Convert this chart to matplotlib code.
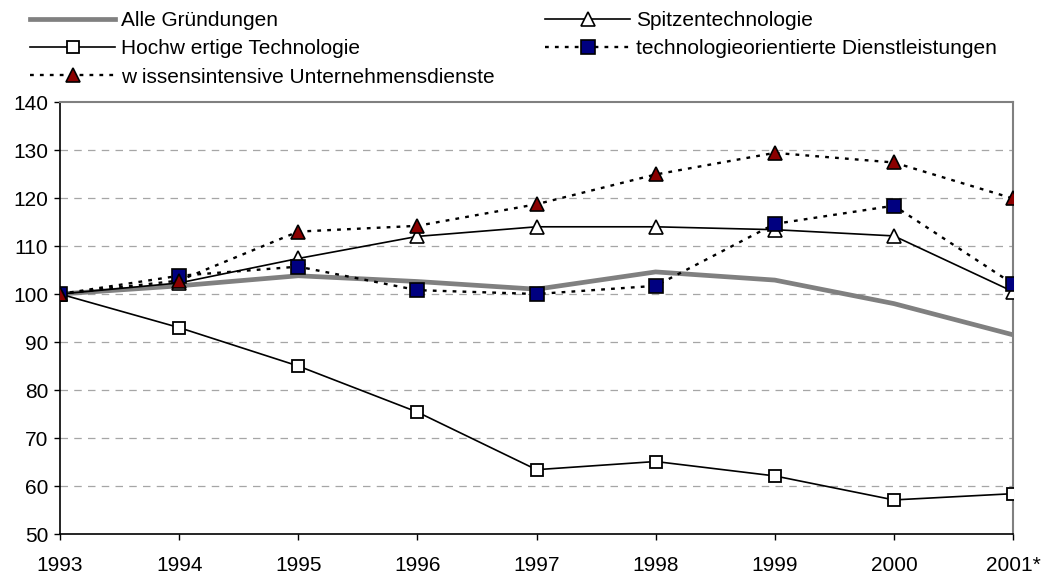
import matplotlib
matplotlib.use("Agg")
import matplotlib.pyplot as plt

years = ["1993", "1994", "1995", "1996", "1997", "1998", "1999", "2000", "2001*"]
alle = [100, 101.7, 103.8, 102.6, 101.0, 104.6, 102.9, 98.0, 91.5]
spitzen = [100, 102.3, 107.4, 112.0, 114.0, 114.0, 113.4, 112.1, 100.5]
hochw = [100, 93.0, 85.0, 75.4, 63.4, 65.1, 62.1, 57.1, 58.4]
techno = [100, 103.8, 105.7, 100.8, 100.0, 101.7, 114.6, 118.4, 102.1]
wissens = [100, 102.8, 113.0, 114.2, 118.7, 124.9, 129.4, 127.4, 119.9]

plt.rcParams['font.family'] = ['Liberation Sans', 'DejaVu Sans']

W, H = 1041, 575
fig = plt.figure(figsize=(W / 100, H / 100), dpi=100)
ax = fig.add_axes([60 / W, (H - 534) / H, (1013 - 60) / W, (534 - 102) / H])
x = list(range(len(years)))

dot = (0, (1.6, 2.6))
l1, = ax.plot(x, alle, color='#808080', lw=3.4, solid_joinstyle='miter', zorder=3,
              label='Alle Gründungen')
l2, = ax.plot(x, spitzen, color='black', lw=1.2, marker='^', markersize=9.5,
              markerfacecolor='white', markeredgecolor='black', markeredgewidth=1.2,
              zorder=4, label='Spitzentechnologie')
l3, = ax.plot(x, hochw, color='black', lw=1.2, marker='s', markersize=8.5,
              markerfacecolor='white', markeredgecolor='black', markeredgewidth=1.3,
              zorder=4, label='Hochw ertige Technologie')
l4, = ax.plot(x, techno, color='black', lw=1.7, ls=dot, marker='s', markersize=9.5,
              markerfacecolor='#000080', markeredgecolor='black', markeredgewidth=1.2,
              zorder=5, label='technologieorientierte Dienstleistungen')
l5, = ax.plot(x, wissens, color='black', lw=1.7, ls=dot, marker='^', markersize=10,
              markerfacecolor='#8B0000', markeredgecolor='black', markeredgewidth=1.2,
              zorder=6, label='w issensintensive Unternehmensdienste')

ax.set_xlim(0, len(years) - 1)
ax.set_ylim(50, 140)
ax.set_xticks(x)
ax.set_xticklabels(years)
ax.set_yticks(range(50, 141, 10))
ax.tick_params(axis='both', labelsize=15, direction='out', length=4.5, width=1, color='black')
ax.tick_params(axis='x', pad=11)
ax.tick_params(axis='y', pad=4)
for v in range(60, 140, 10):
    ax.axhline(v, color='#a6a6a6', lw=0.9, ls=(0, (6, 5)), zorder=1)
for s in ('left', 'bottom'):
    ax.spines[s].set_color('black')
    ax.spines[s].set_linewidth(1.2)
for s in ('top', 'right'):
    ax.spines[s].set_color('#808080')
    ax.spines[s].set_linewidth(1.5)

legkw = dict(loc='upper left', frameon=False, fontsize=15, handlelength=4.1,
             handletextpad=0.25, labelspacing=0.45, borderaxespad=0, borderpad=0)
legL = fig.legend([l1, l3, l5], [l1.get_label(), l3.get_label(), l5.get_label()],
                  bbox_to_anchor=(30 / W, 1 - 11 / H), **legkw)
legR = fig.legend([l2, l4], [l2.get_label(), l4.get_label()],
                  bbox_to_anchor=(545 / W, 1 - 11 / H), **legkw)

fig.savefig('out.png', dpi=100)
